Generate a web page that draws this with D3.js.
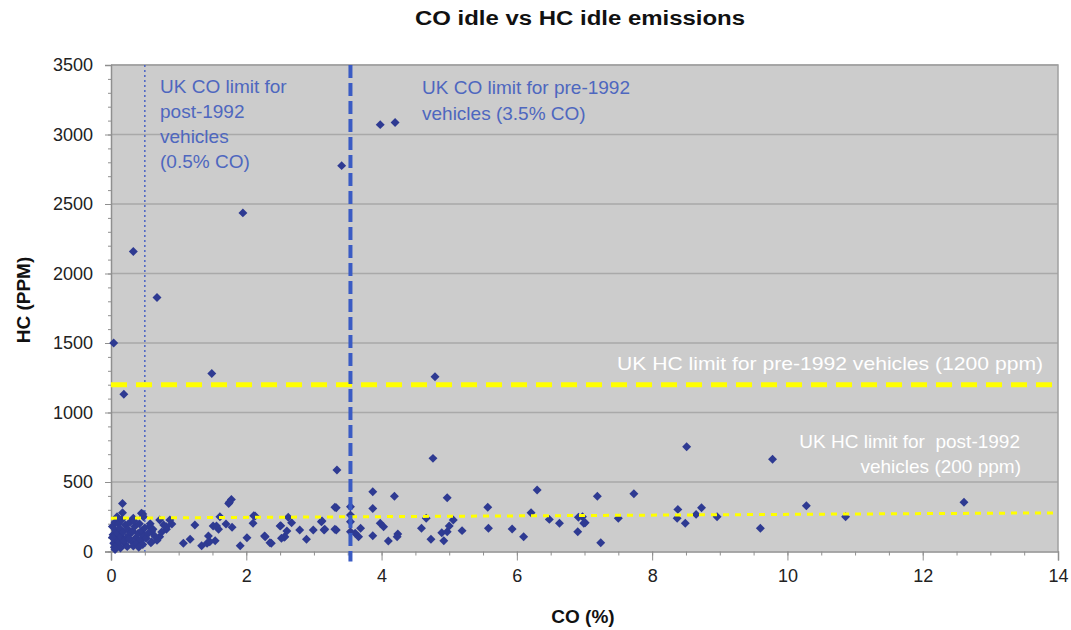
<!DOCTYPE html>
<html><head><meta charset="utf-8">
<script src="https://cdn.jsdelivr.net/npm/d3@7"></script>
<style>body{margin:0;background:#fff;}svg{display:block;font-family:Arial,"Liberation Sans",sans-serif;}</style>
</head><body><svg id="c" width="1071" height="630"></svg>
<script>
// ---- data ----
const coValues = [
 0.04,0.33,0.68,1.49,1.95,3.41,3.98,4.20,4.79,0.19,3.34,8.51,9.78,4.76,12.61,10.86,10.28,
 7.19,7.73,8.38,8.37,8.49,8.65,8.73,8.96,9.60,7.24,7.50,6.99,6.97,6.90,7.01,
 3.54,3.54,3.87,3.87,4.19,3.98,4.03,3.69,3.66,3.61,3.87,4.10,4.24,4.23,4.59,4.66,4.73,4.97,4.89,4.92,4.97,5.00,5.06,5.19,
 5.57,5.58,5.93,6.10,6.30,6.21,6.48,6.63,6.91,
 0.17,0.17,0.33,0.47,0.57,0.60,0.59,0.72,0.72,0.82,0.90,1.07,1.17,1.24,1.34,1.44,1.42,1.54,1.51,1.59,1.61,1.74,1.78,1.70,1.79,1.91,2.01,2.10,2.11,
 2.27,2.37,2.51,2.57,2.62,2.67,2.79,2.89,2.99,3.11,3.15,3.33,3.33,3.31,3.31,3.54,3.54,3.12,3.16,2.60,2.56,2.52,2.50,2.28,2.35,2.13,1.75,1.56,1.46,0.45,0.48,0.60,0.82,0.87,
 0.02,0.03,0.04,0.05,0.06,0.07,0.08,0.09,0.10,0.11,0.12,0.13,0.14,0.15,0.16,0.18,0.20,0.21,0.22,0.24,0.25,0.27,0.28,0.30,0.32,0.33,0.35,0.37,0.38,0.40,
 0.42,0.44,0.45,0.47,0.49,0.50,0.52,0.55,0.58,0.62,0.65,0.68,0.75,0.78,0.02,0.06,0.09,0.19,0.26,0.34,0.41
];
const hcValues = [
 1500,2158,1828,1281,2436,2776,3071,3086,1257,1132,586,754,663,670,354,250,329,
 397,415,303,239,203,267,315,250,167,63,239,203,250,142,207,
 322,262,430,310,397,203,178,167,106,131,114,75,126,106,167,239,88,387,135,78,142,183,226,150,
 318,167,162,106,442,279,231,203,246,
 346,279,239,270,178,142,63,226,106,160,198,59,88,190,42,111,59,78,183,160,250,346,375,198,174,42,99,203,257,
 111,59,186,106,246,207,155,88,155,214,155,315,155,318,160,214,142,219,160,147,102,95,183,106,63,255,354,183,70,275,250,70,178,226,
 180,120,60,30,210,150,90,45,130,200,70,165,25,105,230,140,55,190,95,35,160,120,210,75,145,40,180,100,60,130,
 200,85,150,50,115,170,95,130,200,160,110,80,140,190,100,15,250,75,90,220,30
];
const xTicks = [0,2,4,6,8,10,12,14];
const yTicks = [0,500,1000,1500,2000,2500,3000,3500];
const coLimitPost = 0.5, coLimitPre = 3.54;
const hcLimitPre = 1200;
const hcPostLine = [[0,240],[14,278]];
const titleText = "CO idle vs HC idle emissions";

// ---- chart ----
const svg = d3.select("#c");
const L=111,R=1058,T=65,B=551.5;
const x = d3.scaleLinear().domain([0,14]).range([L,R]);
const y = d3.scaleLinear().domain([0,3500]).range([B,T]);

svg.append("rect").attr("x",L).attr("y",T).attr("width",R-L).attr("height",B-T).attr("fill","#cccccc");
svg.append("g").selectAll("line").data(yTicks.filter(d=>d>0)).join("line")
 .attr("x1",L).attr("x2",R).attr("y1",d=>y(d)).attr("y2",d=>y(d))
 .attr("stroke","#a9a9a9").attr("stroke-width",1.5);
svg.append("path").attr("d",`M${L},${T}H${R}V${B}`).attr("fill","none").attr("stroke","#a0a0a0").attr("stroke-width",1.5);

const yAxis = d3.axisLeft(y).tickValues(yTicks).tickSize(6).tickPadding(12).tickFormat(d3.format("d"));
svg.append("g").attr("transform",`translate(${L},0)`).call(yAxis);
const yMinor = d3.axisLeft(y).tickValues(d3.range(0,3501,100)).tickSize(3).tickFormat("");
svg.append("g").attr("transform",`translate(${L},0)`).call(yMinor).call(g=>g.select(".domain").remove());
const xAxis = d3.axisBottom(x).tickValues(xTicks).tickSize(9).tickPadding(9);
svg.append("g").attr("transform",`translate(0,${B})`).call(xAxis);
const xMinor = d3.axisBottom(x).tickValues(d3.range(0,14.01,0.5)).tickSize(4).tickFormat("");
svg.append("g").attr("transform",`translate(0,${B})`).call(xMinor).call(g=>g.select(".domain").remove());
svg.selectAll(".domain").attr("stroke","#8f8f8f").attr("stroke-width",1.5);
svg.selectAll(".tick line").attr("stroke","#8f8f8f");
svg.selectAll(".tick text").attr("font-size",18).attr("fill","#222").attr("font-family","Arial, 'Liberation Sans', sans-serif");

svg.append("line").attr("x1",x(coLimitPost)).attr("x2",x(coLimitPost)).attr("y1",T).attr("y2",B)
 .attr("stroke","#4a63c4").attr("stroke-width",1.5).attr("stroke-dasharray","2,3");
svg.append("line").attr("x1",L).attr("x2",R).attr("y1",y(hcLimitPre)).attr("y2",y(hcLimitPre))
 .attr("stroke","#ffff00").attr("stroke-width",5).attr("stroke-dasharray","16,9");

const sym = d3.symbol().type(d3.symbolSquare).size(40);
svg.append("g").selectAll("path").data(coValues.map((c,i)=>[c,hcValues[i]])).join("path")
 .attr("transform",d=>`translate(${x(d[0])},${y(d[1])}) rotate(45)`)
 .attr("d",sym).attr("fill","#2e3a92");

svg.append("line").attr("x1",x(hcPostLine[0][0])).attr("x2",x(hcPostLine[1][0]))
 .attr("y1",y(hcPostLine[0][1])).attr("y2",y(hcPostLine[1][1]))
 .attr("stroke","#ffff00").attr("stroke-width",3).attr("stroke-dasharray","6,6");
svg.append("line").attr("x1",x(coLimitPre)).attr("x2",x(coLimitPre)).attr("y1",T).attr("y2",B+10)
 .attr("stroke","#3a5bc4").attr("stroke-width",4).attr("stroke-dasharray","13,5");

const blue="#4e67bf";
const t1 = svg.append("text").attr("fill",blue).attr("font-size",19);
["UK CO limit for","post-1992","vehicles","(0.5% CO)"].forEach((s,i)=>t1.append("tspan").attr("x",160).attr("y",93+25*i).text(s));
const t2 = svg.append("text").attr("fill",blue).attr("font-size",19);
["UK CO limit for pre-1992","vehicles (3.5% CO)"].forEach((s,i)=>t2.append("tspan").attr("x",422).attr("y",94+26*i).text(s));
svg.append("text").attr("x",617).attr("y",370).attr("fill","#fff").attr("font-size",19)
 .attr("textLength",426).attr("lengthAdjust","spacingAndGlyphs").text("UK HC limit for pre-1992 vehicles (1200 ppm)");
svg.append("text").attr("x",1020).attr("y",448).attr("text-anchor","end").attr("fill","#fff").attr("font-size",19).attr("xml:space","preserve").text("UK HC limit for  post-1992");
svg.append("text").attr("x",1021).attr("y",473).attr("text-anchor","end").attr("fill","#fff").attr("font-size",19).text("vehicles (200 ppm)");

svg.append("text").attr("x",415).attr("y",25).attr("font-weight","bold").attr("font-size",20).attr("fill","#111")
 .attr("textLength",330).attr("lengthAdjust","spacingAndGlyphs").text(titleText);
svg.append("text").attr("x",583).attr("y",623).attr("text-anchor","middle").attr("font-weight","bold").attr("font-size",19).attr("fill","#111").text("CO (%)");
svg.append("text").attr("transform","translate(30,300) rotate(-90)").attr("text-anchor","middle").attr("font-weight","bold").attr("font-size",19).attr("fill","#111").text("HC (PPM)");
</script></body></html>
